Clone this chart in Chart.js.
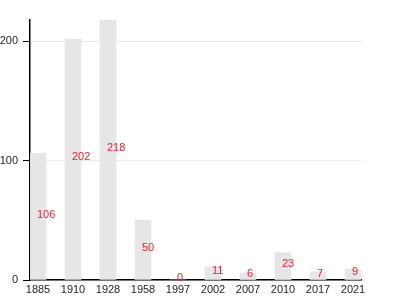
<!DOCTYPE html>
<html>
<head>
<meta charset="utf-8">
<script src="https://cdn.jsdelivr.net/npm/chart.js@4"></script>
<style>
  html, body { margin: 0; padding: 0; background: #fff; }
  #wrap { width: 400px; height: 300px; }
</style>
</head>
<body>
<div id="wrap"><canvas id="chart" width="400" height="300"></canvas></div>
<script>
// years on the x axis, counts per year
const years = ['1885', '1910', '1928', '1958', '1997', '2002', '2007', '2010', '2017', '2021'];
const counts = [106, 202, 218, 50, 0, 11, 6, 23, 7, 9];
const yTicks = [0, 100, 200];

// red value labels, drawn halfway up each bar
const valueLabels = {
  id: 'valueLabels',
  afterDatasetsDraw(chart) {
    const ctx = chart.ctx;
    const meta = chart.getDatasetMeta(0);
    ctx.save();
    ctx.fillStyle = '#e8202e';
    ctx.font = '11px "Liberation Sans", Arial, sans-serif';
    ctx.textAlign = 'left';
    ctx.textBaseline = 'alphabetic';
    meta.data.forEach(function (bar, i) {
      ctx.fillText(String(counts[i]), bar.x - 1, (bar.y + bar.base) / 2 + 1);
    });
    ctx.restore();
  }
};

const ctx = document.getElementById('chart').getContext('2d');
new Chart(ctx, {
  type: 'bar',
  data: {
    datasets: [{
      data: counts.map((v, i) => ({ x: i, y: v })),
      backgroundColor: '#e6e6e6',
      borderWidth: 0,
      barThickness: 16
    }]
  },
  options: {
    responsive: false,
    animation: false,
    layout: { padding: { top: 20, right: 39, left: 0, bottom: 0 } },
    plugins: { legend: { display: false }, tooltip: { enabled: false } },
    scales: {
      x: {
        type: 'linear',
        offset: false,
        min: -0.2286,
        max: 9.2286,
        grid: { display: false, drawTicks: false, offset: false },
        border: { display: true, color: '#000', width: 1.5 },
        afterFit: function (scale) { scale.height = 20; },
        afterBuildTicks: function (scale) {
          scale.ticks = years.map((_, i) => ({ value: i }));
        },
        ticks: {
          autoSkip: false,
          maxRotation: 0,
          padding: 3,
          color: '#222',
          font: { family: '"Liberation Sans", Arial, sans-serif', size: 11 },
          callback: function (value) { return years[value]; }
        }
      },
      y: {
        min: 0,
        max: Math.max(...counts),
        afterFit: function (scale) { scale.width = 30; },
        afterBuildTicks: function (scale) {
          scale.ticks = yTicks.map(v => ({ value: v }));
        },
        grid: { color: '#e8e8e8', lineWidth: 1, tickLength: 7, tickColor: '#000' },
        border: { display: true, color: '#000', width: 1.5 },
        ticks: {
          padding: 5,
          color: '#222',
          font: { family: '"Liberation Sans", Arial, sans-serif', size: 11 }
        }
      }
    }
  },
  plugins: [valueLabels]
});
</script>
</body>
</html>
